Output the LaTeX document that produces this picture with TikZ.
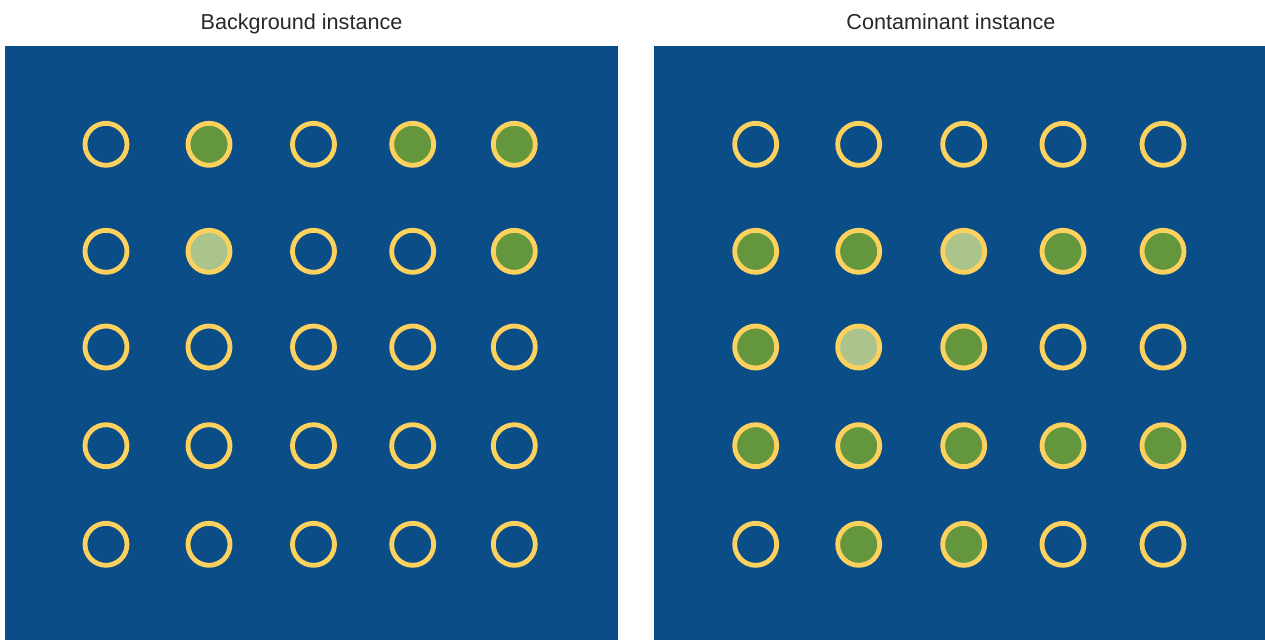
\documentclass[tikz,border=0pt]{standalone}
\usepackage{fontspec}
\setmainfont{Liberation Sans}
\usepackage{tikz}
\definecolor{panelblue}{RGB}{11,77,135}
\definecolor{ringyellow}{RGB}{253,209,94}
\definecolor{dotgreen}{RGB}{100,150,62}
\definecolor{dotlight}{RGB}{170,196,140}
\definecolor{titlegray}{RGB}{40,40,40}
\tikzstyle{ring}=[circle, draw=ringyellow, line width=2.75pt, minimum size=0.84cm, inner sep=0pt, outer sep=0pt]
\tikzstyle{ringG}=[ring, fill=dotgreen]
\tikzstyle{ringL}=[ring, fill=dotlight]
\tikzstyle{title}=[anchor=base, text=titlegray, font=\fontsize{12.3}{14}\selectfont]

\begin{document}
\begin{tikzpicture}[x=0.02cm, y=-0.02cm]
        \useasboundingbox (0,0) rectangle (1265,640);
        \fill[panelblue] (5,46) rectangle (618,640);
        \fill[panelblue] (654,46) rectangle (1265,640);
        \node(tl)[title] at (301.5, 29){Background instance};
        \node(tr)[title] at (951, 29){Contaminant instance};
        % left panel
        \node(l11)[ring] at (106, 144.3){};
        \node(l12)[ringG] at (209, 144.3){};
        \node(l13)[ring] at (313.5, 144.3){};
        \node(l14)[ringG] at (412.7, 144.3){};
        \node(l15)[ringG] at (514.3, 144.3){};
        \node(l21)[ring] at (106, 251.3){};
        \node(l22)[ringL] at (209, 251.3){};
        \node(l23)[ring] at (313.5, 251.3){};
        \node(l24)[ring] at (412.7, 251.3){};
        \node(l25)[ringG] at (514.3, 251.3){};
        \node(l31)[ring] at (106, 347){};
        \node(l32)[ring] at (209, 347){};
        \node(l33)[ring] at (313.5, 347){};
        \node(l34)[ring] at (412.7, 347){};
        \node(l35)[ring] at (514.3, 347){};
        \node(l41)[ring] at (106, 445.7){};
        \node(l42)[ring] at (209, 445.7){};
        \node(l43)[ring] at (313.5, 445.7){};
        \node(l44)[ring] at (412.7, 445.7){};
        \node(l45)[ring] at (514.3, 445.7){};
        \node(l51)[ring] at (106, 544.3){};
        \node(l52)[ring] at (209, 544.3){};
        \node(l53)[ring] at (313.5, 544.3){};
        \node(l54)[ring] at (412.7, 544.3){};
        \node(l55)[ring] at (514.3, 544.3){};
        % right panel
        \node(r11)[ring] at (755.7, 144.3){};
        \node(r12)[ring] at (858.7, 144.3){};
        \node(r13)[ring] at (963.7, 144.3){};
        \node(r14)[ring] at (1063, 144.3){};
        \node(r15)[ring] at (1163, 144.3){};
        \node(r21)[ringG] at (755.7, 251.3){};
        \node(r22)[ringG] at (858.7, 251.3){};
        \node(r23)[ringL] at (963.7, 251.3){};
        \node(r24)[ringG] at (1063, 251.3){};
        \node(r25)[ringG] at (1163, 251.3){};
        \node(r31)[ringG] at (755.7, 347){};
        \node(r32)[ringL] at (858.7, 347){};
        \node(r33)[ringG] at (963.7, 347){};
        \node(r34)[ring] at (1063, 347){};
        \node(r35)[ring] at (1163, 347){};
        \node(r41)[ringG] at (755.7, 445.7){};
        \node(r42)[ringG] at (858.7, 445.7){};
        \node(r43)[ringG] at (963.7, 445.7){};
        \node(r44)[ringG] at (1063, 445.7){};
        \node(r45)[ringG] at (1163, 445.7){};
        \node(r51)[ring] at (755.7, 544.3){};
        \node(r52)[ringG] at (858.7, 544.3){};
        \node(r53)[ringG] at (963.7, 544.3){};
        \node(r54)[ring] at (1063, 544.3){};
        \node(r55)[ring] at (1163, 544.3){};
     \end{tikzpicture}
\end{document}
